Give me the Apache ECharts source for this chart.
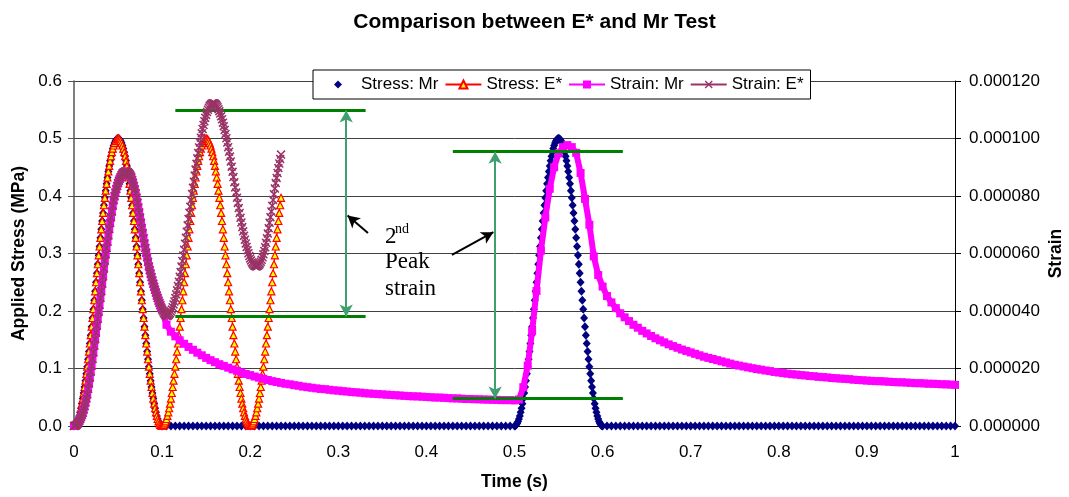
<!DOCTYPE html>
<html>
<head>
<meta charset="utf-8">
<script src="https://cdn.jsdelivr.net/npm/echarts@6/dist/echarts.min.js"></script>
<style>
  html, body { margin: 0; padding: 0; background: #fff; }
  #chart { width: 1069px; height: 497px; }
</style>
</head>
<body>
<div id="chart"></div>
<script>
// Sampling steps (s): fine resolution inside load pulses, coarse elsewhere
const FINE = 0.001;
const COARSE = 0.005;

// One haversine load pulse, 0 to 0.1 s, applied stress in MPa
const stressPulse = [
  0, 0.0005, 0.002, 0.0044, 0.0079, 0.0122, 0.0176, 0.0238, 0.0309, 0.0389,
  0.0477, 0.0574, 0.0678, 0.0789, 0.0907, 0.1031, 0.1161, 0.1295, 0.1435, 0.158,
  0.1727, 0.1878, 0.2031, 0.2187, 0.2343, 0.25, 0.2657, 0.2813, 0.2969, 0.3122,
  0.3273, 0.342, 0.3565, 0.3705, 0.3839, 0.3969, 0.4093, 0.4211, 0.4322, 0.4426,
  0.4523, 0.4611, 0.4691, 0.4762, 0.4824, 0.4878, 0.4921, 0.4956, 0.498, 0.4995,
  0.5,
  0.4995, 0.498, 0.4956, 0.4921, 0.4878, 0.4824, 0.4762, 0.4691, 0.4611, 0.4523,
  0.4426, 0.4322, 0.4211, 0.4093, 0.3969, 0.3839, 0.3705, 0.3565, 0.342, 0.3273,
  0.3122, 0.2969, 0.2813, 0.2657, 0.25, 0.2343, 0.2187, 0.2031, 0.1878, 0.1727,
  0.158, 0.1435, 0.1295, 0.1161, 0.1031, 0.0907, 0.0789, 0.0678, 0.0574, 0.0477,
  0.0389, 0.0309, 0.0238, 0.0176, 0.0122, 0.0079, 0.0044, 0.002, 0.0005, 0
];

// Mr test rest periods (stress, MPa): 0.105-0.495 s and 0.605-1.000 s
const stressMrRestA = [
  0,0,0,0,0,0,0,0,0,0, 0,0,0,0,0,0,0,0,0,0, 0,0,0,0,0,0,0,0,0,0, 0,0,0,0,0,0,0,0,0,0,
  0,0,0,0,0,0,0,0,0,0, 0,0,0,0,0,0,0,0,0,0, 0,0,0,0,0,0,0,0,0,0, 0,0,0,0,0,0,0,0,0
];
const stressMrRestB = [
  0,0,0,0,0,0,0,0,0,0, 0,0,0,0,0,0,0,0,0,0, 0,0,0,0,0,0,0,0,0,0, 0,0,0,0,0,0,0,0,0,0,
  0,0,0,0,0,0,0,0,0,0, 0,0,0,0,0,0,0,0,0,0, 0,0,0,0,0,0,0,0,0,0, 0,0,0,0,0,0,0,0,0,0
];

// E* test strain, microstrain, 0 to 0.235 s every 1 ms
const strainEstar = [
  0, 0.05, 0.2, 0.45, 0.8, 1.2, 1.8, 2.4, 3.1, 3.8,
  4.6, 5.7, 6.9, 8.2, 9.6, 11, 12.9, 14.8, 16.8, 18.9,
  21, 23.3, 25.6, 27.9, 30.2, 32.5, 34.9, 37.3, 39.7, 42.1,
  44.5, 46.9, 49.5, 52.1, 54.8, 57.5, 59.7, 61.9, 64.1, 66.3,
  68.5, 70.6, 72.6, 74.6, 76.6, 78.5, 79.9, 81.2, 82.4, 83.5,
  84.5, 85.3, 86, 86.6, 87.2, 87.8, 88.1, 88.3, 88.5, 88.5,
  88.5, 88.3, 88, 87.6, 87.1, 86.5, 85.6, 84.6, 83.5, 82.3,
  81, 79.4, 77.7, 76, 74.3, 72.5, 70.7, 68.9, 67.1, 65.3,
  63.5, 61.9, 60.3, 58.7, 57.1, 55.5, 54.2, 53, 51.8, 50.6,
  49.5, 48.4, 47.4, 46.4, 45.4, 44.5, 43.6, 42.8, 42, 41.2,
  40.5, 39.9, 39.3, 38.8, 38.5, 38.2, 38.3, 38.5, 38.8, 39.2,
  39.8, 40.5, 41.3, 42.3, 43.3, 44.5, 45.8, 47.2, 48.7, 50.2,
  51.9, 53.6, 55.5, 57.4, 59.3, 61.3, 63.4, 65.5, 67.6, 69.8,
  72.0, 74.2, 76.3, 78.5, 80.7, 82.9, 85.0, 87.1, 89.2, 91.2,
  93.1, 95.0, 96.9, 98.6, 100.3, 101.8, 103.3, 104.7, 106.0, 107.2,
  108.2, 109.2, 110.0, 110.7, 111.3, 111.7, 112.0, 112.2, 112.3, 112.2,
  112.1, 111.8, 111.4, 110.9, 110.2, 109.5, 108.7, 107.7, 106.7, 105.5,
  104.3, 103.0, 101.6, 100.1, 98.6, 97.0, 95.4, 93.7, 92.0, 90.2,
  88.4, 86.6, 84.8, 83.0, 81.2, 79.4, 77.6, 75.8, 74.1, 72.4,
  70.8, 69.2, 67.7, 66.2, 64.8, 63.5, 62.3, 61.1, 60.1, 59.1,
  58.3, 57.6, 56.9, 56.4, 56.0, 55.7, 55.6, 55.5, 55.6, 55.8,
  56.1, 56.5, 57.1, 57.8, 58.7, 59.7, 60.9, 62.2, 63.7, 65.3,
  67.0, 68.8, 70.7, 72.6, 74.6, 76.6, 78.6, 80.6, 82.6, 84.5,
  86.3, 88.0, 89.7, 91.3, 92.9, 94.4
];

// Mr test strain after the first pulse, microstrain, 0.105 to 1.000 s every 5 ms
const strainMrTail = [
  35.2, 32.8, 31.2, 29.8, 28.6, 27.5, 26.5, 25.5, 24.6, 23.7,
  22.9, 22.2, 21.5, 20.9, 20.3, 19.7, 19.2, 18.6, 18.1, 17.7,
  17.2, 16.8, 16.4, 16.0, 15.6, 15.3, 15.0, 14.7, 14.5, 14.2,
  14.0, 13.7, 13.5, 13.3, 13.1, 12.9, 12.8, 12.6, 12.4, 12.3,
  12.1, 12.0, 11.8, 11.7, 11.6, 11.4, 11.3, 11.2, 11.1, 11.0,
  10.9, 10.8, 10.7, 10.6, 10.5, 10.4, 10.3, 10.3, 10.2, 10.1,
  10.0, 9.9, 9.9, 9.8, 9.7, 9.6, 9.6, 9.5, 9.4, 9.4,
  9.3, 9.3, 9.2, 9.2, 9.1, 9.1, 9.0, 9.0, 9.0, 8.9,
  9.2, 13.5, 21.0, 33.0, 47.0, 61.0, 72.5, 82.5, 90.0, 94.8,
  97.0, 97.7, 97.0, 95.0, 88.0, 79.0, 70.0, 59.0, 52.5, 48.5,
  45.2, 43.0, 41.0, 39.2, 37.8, 36.5, 35.2, 34.2, 33.1, 32.2,
  31.3, 30.5, 29.8, 29.1, 28.4, 27.8, 27.2, 26.6, 26.1, 25.6,
  25.1, 24.6, 24.1, 23.7, 23.3, 22.9, 22.5, 22.1, 21.7, 21.3,
  21.0, 20.7, 20.4, 20.1, 19.8, 19.6, 19.3, 19.1, 18.8, 18.6,
  18.4, 18.2, 18.0, 17.9, 17.7, 17.6, 17.4, 17.3, 17.1, 17.0,
  16.9, 16.7, 16.6, 16.5, 16.4, 16.3, 16.1, 16.0, 15.9, 15.8,
  15.7, 15.6, 15.6, 15.5, 15.4, 15.3, 15.2, 15.2, 15.1, 15.0,
  14.9, 14.9, 14.8, 14.7, 14.7, 14.6, 14.5, 14.5, 14.4, 14.3
];

// Second-peak strain levels (time in s, strain in microstrain)
const eStarLevels = { from: 0.115, to: 0.331, high: 109.7, low: 38.1, arrowAt: 0.309 };
const mrLevels = { from: 0.430, to: 0.623, high: 95.4, low: 9.6, arrowAt: 0.478 };

// Pair sample times with values
const pts = (t0, step, vals) => vals.map((v, i) => [+(t0 + i * step).toFixed(4), v]);

const stressMrData = [
  ...pts(0, FINE, stressPulse),
  ...pts(0.105, COARSE, stressMrRestA),
  ...pts(0.5, FINE, stressPulse),
  ...pts(0.605, COARSE, stressMrRestB)
];
const stressEData = [
  ...pts(0, FINE, stressPulse),
  ...pts(0.101, FINE, stressPulse.slice(1)),
  ...pts(0.201, FINE, stressPulse.slice(1, 36))
];
const strainEData = pts(0, FINE, strainEstar);
const strainMrData = [
  ...pts(0, FINE, strainEstar.slice(0, 101)),
  ...pts(0.105, COARSE, strainMrTail)
];

const SANS = 'Arial, "Liberation Sans", sans-serif';
const SERIF = '"Times New Roman", "Liberation Serif", serif';
const X_MARK = 'path://M0,1.2L1.2,0L5,3.8L8.8,0L10,1.2L6.2,5L10,8.8L8.8,10L5,6.2L1.2,10L0,8.8L3.8,5Z';
const GREEN = '#008000';
const TEAL = '#3f9f6f';

const green = { lineStyle: { color: GREEN, width: 3, type: 'solid' } };
const teal = { lineStyle: { color: TEAL, width: 2, type: 'solid' } };
const black = { lineStyle: { color: '#000', width: 2, type: 'solid' } };
const head = (c) => ({ coord: c, symbol: 'arrow', symbolSize: [10, 12] });

const chart = echarts.init(document.getElementById('chart'), null, { renderer: 'canvas' });

chart.setOption({
  animation: false,
  backgroundColor: '#fff',
  title: {
    text: 'Comparison between E* and Mr Test',
    left: 'center', top: 12, padding: 0,
    textStyle: { fontFamily: SANS, fontSize: 21, fontWeight: 'bold', color: '#000' }
  },
  legend: {
    left: 313, top: 70,
    padding: [6, 7, 6, 7],
    itemGap: 6, itemWidth: 36, itemHeight: 10,
    backgroundColor: '#fff', borderColor: '#000', borderWidth: 1, borderRadius: 0,
    textStyle: { fontFamily: SANS, fontSize: 17, color: '#000' },
    selectedMode: false,
    data: ['Stress: Mr', 'Stress: E*', 'Strain: Mr', 'Strain: E*']
  },
  grid: { left: 74, right: 114, top: 81, bottom: 71, containLabel: false, outerBoundsMode: 'none' },
  xAxis: {
    type: 'value', min: 0, max: 1, interval: 0.1,
    name: 'Time (s)', nameLocation: 'middle', nameGap: 47, nameMoveOverlap: false,
    nameTextStyle: { fontFamily: SANS, fontSize: 17.5, fontWeight: 'bold', color: '#000' },
    axisLine: { show: true, onZero: false, lineStyle: { color: '#000', width: 1 } },
    axisTick: { show: false },
    axisLabel: { margin: 18, fontFamily: SANS, fontSize: 17, color: '#000',
      formatter: v => String(+v.toFixed(1)) },
    splitLine: { show: false }
  },
  yAxis: [
    {
      type: 'value', min: 0, max: 0.6, interval: 0.1,
      name: 'Applied Stress (MPa)', nameLocation: 'middle', nameGap: 46, nameRotate: 90,
      nameMoveOverlap: false,
      nameTextStyle: { fontFamily: SANS, fontSize: 17.5, fontWeight: 'bold', color: '#000' },
      axisLine: { show: true, lineStyle: { color: '#555', width: 1.5 } },
      axisTick: { show: true, length: 6, inside: false, lineStyle: { color: '#555', width: 1 } },
      axisLabel: { margin: 12, fontFamily: SANS, fontSize: 17, color: '#000',
        formatter: v => v.toFixed(1) },
      splitLine: { show: true, lineStyle: { color: '#404040', width: 1 } }
    },
    {
      type: 'value', min: 0, max: 120, interval: 20, position: 'right',
      name: 'Strain', nameLocation: 'middle', nameGap: 92, nameRotate: 90,
      nameMoveOverlap: false,
      nameTextStyle: { fontFamily: SANS, fontSize: 17.5, fontWeight: 'bold', color: '#000' },
      axisLine: { show: true, lineStyle: { color: '#000', width: 1 } },
      axisTick: { show: true, length: 6, inside: false, lineStyle: { color: '#000', width: 1 } },
      axisLabel: { margin: 14, fontFamily: SANS, fontSize: 17, color: '#000',
        formatter: v => (v / 1e6).toFixed(6) },
      splitLine: { show: false }
    }
  ],
  series: [
    {
      name: 'Stress: Mr', type: 'line', yAxisIndex: 0, data: stressMrData,
      symbol: 'diamond', symbolSize: [8, 9],
      lineStyle: { width: 0, opacity: 0 },
      itemStyle: { color: '#000080' },
      silent: true, emphasis: { disabled: true }, z: 2
    },
    {
      name: 'Stress: E*', type: 'line', yAxisIndex: 0, data: stressEData,
      symbol: 'triangle', symbolSize: 7,
      lineStyle: { color: '#ff0000', width: 1 },
      itemStyle: { color: '#ffff00', borderColor: '#ff0000', borderWidth: 1.2 },
      silent: true, emphasis: { disabled: true }, z: 3
    },
    {
      name: 'Strain: Mr', type: 'line', yAxisIndex: 1, data: strainMrData,
      symbol: 'rect', symbolSize: 8,
      lineStyle: { color: '#ff00ff', width: 6 },
      itemStyle: { color: '#ff00ff' },
      silent: true, emphasis: { disabled: true }, z: 4
    },
    {
      name: 'Strain: E*', type: 'line', yAxisIndex: 1, data: strainEData,
      symbol: X_MARK, symbolSize: 9,
      lineStyle: { color: '#993366', width: 1.5 },
      itemStyle: { color: '#993366' },
      silent: true, emphasis: { disabled: true }, z: 5,
      markLine: {
        silent: true, animation: false, symbol: 'none',
        label: { show: false }, emphasis: { disabled: true },
        data: [
          [{ coord: [eStarLevels.from, eStarLevels.high], ...green }, { coord: [eStarLevels.to, eStarLevels.high] }],
          [{ coord: [eStarLevels.from, eStarLevels.low], ...green }, { coord: [eStarLevels.to, eStarLevels.low] }],
          [{ coord: [mrLevels.from, mrLevels.high], ...green }, { coord: [mrLevels.to, mrLevels.high] }],
          [{ coord: [mrLevels.from, mrLevels.low], ...green }, { coord: [mrLevels.to, mrLevels.low] }],
          [{ ...head([eStarLevels.arrowAt, eStarLevels.high]), ...teal }, head([eStarLevels.arrowAt, eStarLevels.low])],
          [{ ...head([mrLevels.arrowAt, mrLevels.high]), ...teal }, head([mrLevels.arrowAt, mrLevels.low])],
          [{ coord: [0.3337, 67.1], symbol: 'none', ...black }, head([0.3105, 73.2])],
          [{ coord: [0.429, 59.5], symbol: 'none', ...black }, head([0.476, 67.4])]
        ]
      }
    }
  ]
});

// "2nd Peak strain" note, placed in time/strain units
const at = (t, s) => chart.convertToPixel({ xAxisIndex: 0, yAxisIndex: 1 }, [t, s]);
const p2 = at(0.353, 65.7);
const pNd = at(0.3645, 68.5);
const pPeak = at(0.353, 57.2);
const pStrain = at(0.353, 47.6);
const noteText = (p, text, size) => ({
  type: 'text', x: p[0], y: p[1], silent: true, z: 10,
  style: { text, fill: '#000', font: size + 'px ' + SERIF, align: 'left', verticalAlign: 'middle' }
});
chart.setOption({
  graphic: [
    noteText(p2, '2', 23),
    noteText(pNd, 'nd', 14),
    noteText(pPeak, 'Peak', 23),
    noteText(pStrain, 'strain', 23)
  ]
});
</script>
</body>
</html>
